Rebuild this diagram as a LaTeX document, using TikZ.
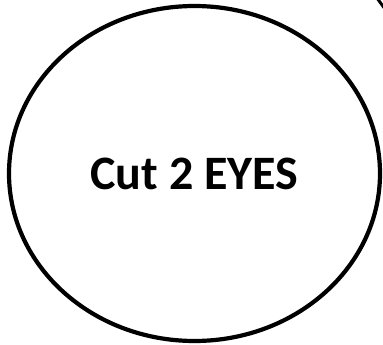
\documentclass[tikz,border=0pt]{standalone}
\usepackage{fontspec}
\setmainfont{Carlito}
\usetikzlibrary{shapes.geometric}

\begin{document}
\begin{tikzpicture}[x=1pt,y=-1pt,
    bubble/.style={ellipse,draw=black,line width=4.2pt,minimum width=371pt,
      minimum height=335pt,inner sep=0pt,font=\fontsize{48}{54}\selectfont\bfseries}
  ]
    \useasboundingbox (0,0) rectangle (383,345);
    \node[bubble] (eyes) at (194.5,173.5) {Cut 2 EYES};
    % stray connector end at the top right
    \coordinate (tipA) at (377,-2);
    \coordinate (tipB) at (385,9);
    \draw[line width=3pt] (tipA) -- (tipB);
  \end{tikzpicture}
\end{document}
